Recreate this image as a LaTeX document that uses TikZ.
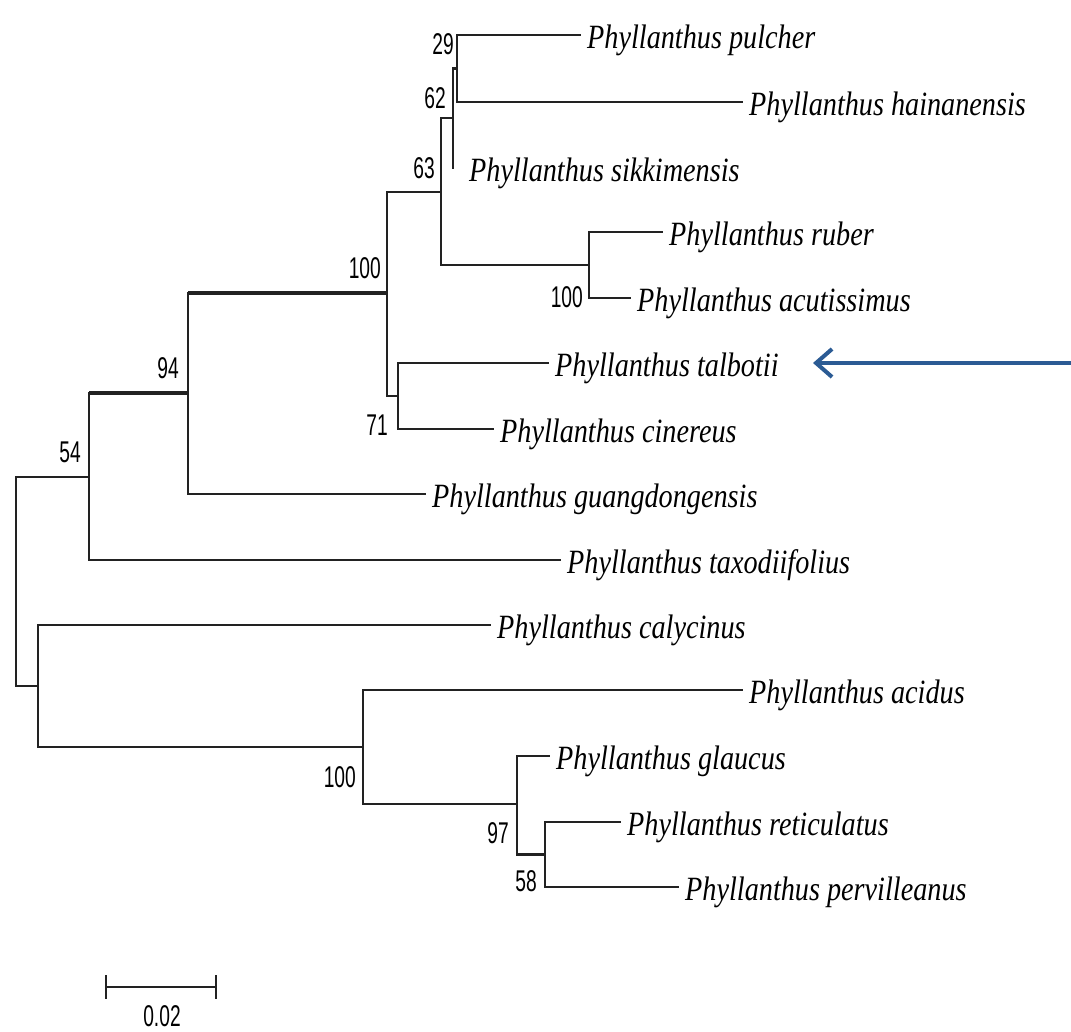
\documentclass[tikz,border=0pt]{standalone}
\usepackage{fontspec}
\setmainfont{Liberation Serif}
\newfontfamily\spfont[FakeStretch=0.83]{Liberation Serif}
\newfontfamily\numfont[FakeStretch=0.64]{Liberation Sans}
\usetikzlibrary{arrows.meta}
\definecolor{branchcol}{HTML}{222222}
\definecolor{arrowblue}{HTML}{2B5B94}
\tikzset{
  br/.style={draw=branchcol, line width=2.5pt, line cap=rect},
  brthick/.style={draw=branchcol, line width=3.6pt},
  sp/.style={anchor=base west, inner sep=0pt, xshift=7pt, yshift=-13pt,
    font=\spfont\itshape\fontsize{34}{40}\selectfont},
  bs/.style={anchor=east, inner sep=0pt,
    font=\numfont\fontsize{30}{34}\selectfont},
}
\begin{document}
\begin{tikzpicture}[x=1pt,y=-1pt]
\useasboundingbox (0,0) rectangle (1071,1031);
% internal nodes
\coordinate (root)  at (16,581.5);
\coordinate (n54)   at (89,477);
\coordinate (n94)   at (188,393);
\coordinate (n100a) at (387,293);
\coordinate (n63)   at (441,192);
\coordinate (n62)   at (453,118);
\coordinate (n29)   at (457,68.5);
\coordinate (n100b) at (589,265);
\coordinate (n71)   at (398,396);
\coordinate (ncal)  at (38,686);
\coordinate (n100c) at (363,747);
\coordinate (n97)   at (517,804);
\coordinate (n58)   at (545,854.5);
% leaf tips
\coordinate (tPul) at (580,35);
\coordinate (tHai) at (742,102);
\coordinate (tSik) at (453,168);
\coordinate (tRub) at (662,232);
\coordinate (tAcu) at (630,298);
\coordinate (tTal) at (548,363);
\coordinate (tCin) at (493,429);
\coordinate (tGua) at (425,494);
\coordinate (tTax) at (560,560);
\coordinate (tCal) at (490,625);
\coordinate (tAci) at (742,690);
\coordinate (tGla) at (549,756);
\coordinate (tRet) at (620,822);
\coordinate (tPer) at (678,887);
% branches
\draw[br] (root) |- (n54);
\draw[br] (root) |- (ncal);
\draw[br] (n54) |- (n94);
\draw[brthick] (n54 |- n94) -- (n94);
\draw[br] (n54) |- (tTax);
\draw[br] (n94) |- (n100a);
\draw[brthick] (n94 |- n100a) -- (n100a);
\draw[br] (n94) |- (tGua);
\draw[br] (n100a) |- (n63);
\draw[br] (n100a) |- (n71);
\draw[br] (n63) |- (n62);
\draw[br] (n63) |- (n100b);
\draw[br] (n62) |- (n29);
\draw[br] (n62) -- (tSik);
\draw[br] (n29) |- (tPul);
\draw[br] (n29) |- (tHai);
\draw[br] (n100b) |- (tRub);
\draw[br] (n100b) |- (tAcu);
\draw[br] (n71) |- (tTal);
\draw[br] (n71) |- (tCin);
\draw[br] (ncal) |- (tCal);
\draw[br] (ncal) |- (n100c);
\draw[br] (n100c) |- (tAci);
\draw[br] (n100c) |- (n97);
\draw[br] (n97) |- (tGla);
\draw[br] (n97) |- (n58);
\draw[br] (n58) |- (tRet);
\draw[br] (n58) |- (tPer);
% species labels
\node[sp] (lPul) at (tPul) {Phyllanthus pulcher};
\node[sp] (lHai) at (tHai) {Phyllanthus hainanensis};
\node[sp, xshift=9pt] (lSik) at (tSik) {Phyllanthus sikkimensis};
\node[sp] (lRub) at (tRub) {Phyllanthus ruber};
\node[sp] (lAcu) at (tAcu) {Phyllanthus acutissimus};
\node[sp] (lTal) at (tTal) {Phyllanthus talbotii};
\node[sp] (lCin) at (tCin) {Phyllanthus cinereus};
\node[sp] (lGua) at (tGua) {Phyllanthus guangdongensis};
\node[sp] (lTax) at (tTax) {Phyllanthus taxodiifolius};
\node[sp] (lCal) at (tCal) {Phyllanthus calycinus};
\node[sp] (lAci) at (tAci) {Phyllanthus acidus};
\node[sp] (lGla) at (tGla) {Phyllanthus glaucus};
\node[sp] (lRet) at (tRet) {Phyllanthus reticulatus};
\node[sp] (lPer) at (tPer) {Phyllanthus pervilleanus};
% bootstrap values
\node[bs] (b29)   at (454,44)  {29};
\node[bs] (b62)   at (446,98)  {62};
\node[bs] (b63)   at (435,168) {63};
\node[bs] (b100a) at (381,268) {100};
\node[bs] (b100b) at (583,297) {100};
\node[bs] (b94)   at (179,368) {94};
\node[bs] (b54)   at (81,452)  {54};
\node[bs] (b71)   at (388,425) {71};
\node[bs] (b100c) at (356,777) {100};
\node[bs] (b97)   at (509,833) {97};
\node[bs] (b58)   at (537,881) {58};
% arrow
\coordinate (arrStart) at (1071,363);
\coordinate (arrTip) at (813,363);
\draw[arrowblue, line width=4pt, -{Straight Barb[length=16pt,width=28pt]}] (arrStart) -- (arrTip);
% scale bar
\coordinate (sbL) at (106,987);
\coordinate (sbR) at (216,987);
\draw[br, line cap=butt] (sbL) -- (sbR);
\draw[br, line cap=butt] ([yshift=12pt]sbL) -- ([yshift=-12pt]sbL);
\draw[br, line cap=butt] ([yshift=12pt]sbR) -- ([yshift=-12pt]sbR);
\node[bs, anchor=center] (sbLab) at (162,1016) {0.02};
\end{tikzpicture}
\end{document}
